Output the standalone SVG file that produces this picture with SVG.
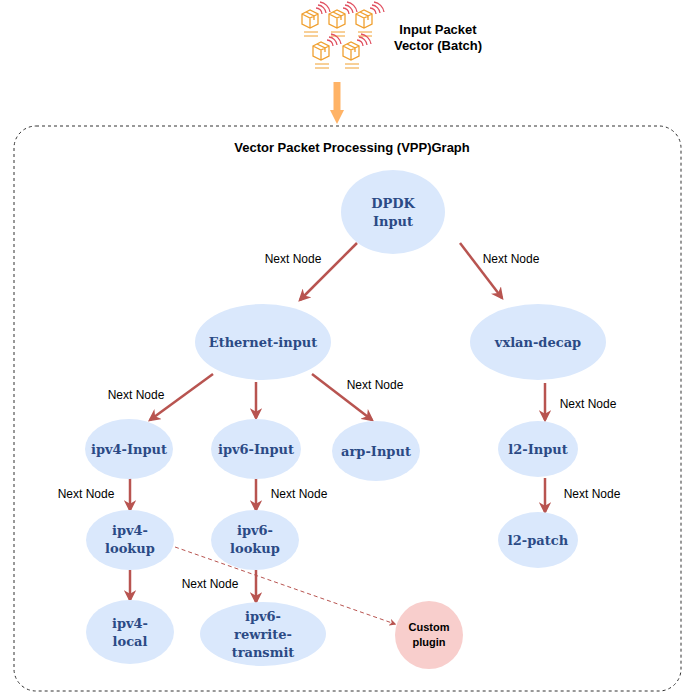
<svg xmlns="http://www.w3.org/2000/svg" width="697" height="700" viewBox="0 0 697 700">
<style>
.n{fill:#dae8fc;stroke:none}
.t{font-family:"DejaVu Serif",serif;font-weight:bold;font-size:13px;fill:#2b4a85;text-anchor:middle}
.l{font-family:"Liberation Sans",Arial,sans-serif;font-size:12px;fill:#000;text-anchor:middle}
.e{stroke:#b85450;stroke-width:2.5;fill:none;marker-end:url(#a)}
.ic{fill:none;stroke:#f0a030;stroke-width:1.3}
</style>
<defs>
<marker id="a" viewBox="0 0 10 10" refX="8" refY="5" markerWidth="5" markerHeight="5" orient="auto"><path d="M0,0L10,5L0,10L3,5z" fill="#b85450"/></marker>
<marker id="d" viewBox="0 0 10 10" refX="8" refY="5" markerWidth="7" markerHeight="7" orient="auto"><path d="M0,0L10,5L0,10L3,5z" fill="#b85450"/></marker>
<g id="box"><path class="ic" d="M0,6L8,2L16,6L16,16L8,20L0,16Z M0,6L8,10L16,6 M8,10L8,20 M4,4L12,8L12,12"/><path d="M14,0a6,6 0 0 1 6,6 M16,-3a9,9 0 0 1 8,8 M18,-6a12,12 0 0 1 10,10" stroke="#e05060" stroke-width="1.3" fill="none"/><path d="M2,24h14 M2,28h14" stroke="#f0a030" stroke-width="1"/></g>
</defs>
<g id="icon">
<use href="#box" x="302" y="8"/><use href="#box" x="329" y="8"/><use href="#box" x="356" y="8"/>
<use href="#box" x="313" y="40"/><use href="#box" x="343" y="40"/>
</g>
<text x="438" y="34" class="l" style="font-weight:bold;font-size:13px">Input Packet</text>
<text x="438" y="50" class="l" style="font-weight:bold;font-size:13px">Vector (Batch)</text>
<path d="M337,82V112" stroke="#ffb366" stroke-width="7"/>
<path d="M330,110L344,110L337,124Z" fill="#ffb366"/>
<rect x="14" y="126" width="667" height="565" rx="22" fill="none" stroke="#333" stroke-dasharray="3,3"/>
<text x="352" y="152" class="l" style="font-weight:bold;font-size:13px">Vector Packet Processing (VPP)Graph</text>
<g id="connectors">
<path class="e" d="M357,243L300,300"/>
<path class="e" d="M460,243L502,298"/>
<path class="e" d="M213,374L150,420"/>
<path class="e" d="M256,382V418"/>
<path class="e" d="M312,374L372,420"/>
<path class="e" d="M545,383V420"/>
<path class="e" d="M545,478V512"/>
<path class="e" d="M130,478V510"/>
<path class="e" d="M256,478V510"/>
<path class="e" d="M130,570V600"/>
<path class="e" d="M256,570V602"/>
<path d="M175,547L395,624" stroke="#b85450" stroke-width="1" stroke-dasharray="4,3" fill="none" marker-end="url(#d)"/>
<text x="293" y="263" class="l">Next Node</text>
<text x="511" y="263" class="l">Next Node</text>
<text x="136" y="399" class="l">Next Node</text>
<text x="375" y="389" class="l">Next Node</text>
<text x="588" y="408" class="l">Next Node</text>
<text x="592" y="498" class="l">Next Node</text>
<text x="86" y="498" class="l">Next Node</text>
<text x="299" y="498" class="l">Next Node</text>
<text x="210" y="588" class="l">Next Node</text>
</g>
<g id="dpdk"><ellipse class="n" cx="393" cy="212" rx="52" ry="42"/><text class="t" x="393" y="208">DPDK</text><text class="t" x="393" y="226">Input</text></g>
<g id="eth"><ellipse class="n" cx="263" cy="342" rx="68" ry="38"/><text class="t" x="263" y="347">Ethernet-input</text></g>
<g id="vxlan"><ellipse class="n" cx="538" cy="342" rx="68" ry="38"/><text class="t" x="538" y="347">vxlan-decap</text></g>
<g id="ipv4in"><ellipse class="n" cx="129" cy="449" rx="44" ry="30"/><text class="t" x="129" y="454">ipv4-Input</text></g>
<g id="ipv6in"><ellipse class="n" cx="256" cy="449" rx="45" ry="30"/><text class="t" x="256" y="454">ipv6-Input</text></g>
<g id="arp"><ellipse class="n" cx="376" cy="451" rx="44" ry="30"/><text class="t" x="376" y="456">arp-Input</text></g>
<g id="l2in"><ellipse class="n" cx="538" cy="449" rx="40" ry="28"/><text class="t" x="538" y="454">l2-Input</text></g>
<g id="ipv4lk"><ellipse class="n" cx="130" cy="540" rx="44" ry="30"/><text class="t" x="130" y="535">ipv4-</text><text class="t" x="130" y="553">lookup</text></g>
<g id="ipv6lk"><ellipse class="n" cx="255" cy="540" rx="44" ry="30"/><text class="t" x="255" y="535">ipv6-</text><text class="t" x="255" y="553">lookup</text></g>
<g id="l2patch"><ellipse class="n" cx="538" cy="540" rx="40" ry="28"/><text class="t" x="538" y="545">l2-patch</text></g>
<g id="ipv4local"><ellipse class="n" cx="130" cy="632" rx="44" ry="32"/><text class="t" x="130" y="628">ipv4-</text><text class="t" x="130" y="646">local</text></g>
<g id="ipv6rw"><ellipse class="n" cx="263" cy="634" rx="63" ry="32"/><text class="t" x="263" y="621">ipv6-</text><text class="t" x="263" y="639">rewrite-</text><text class="t" x="263" y="657">transmit</text></g>
<g id="plugin"><circle cx="429" cy="635" r="34" fill="#f8cecc"/><text class="l" x="429" y="631" style="font-weight:bold;font-size:11px">Custom</text><text class="l" x="429" y="646" style="font-weight:bold;font-size:11px">plugin</text></g>
</svg>
